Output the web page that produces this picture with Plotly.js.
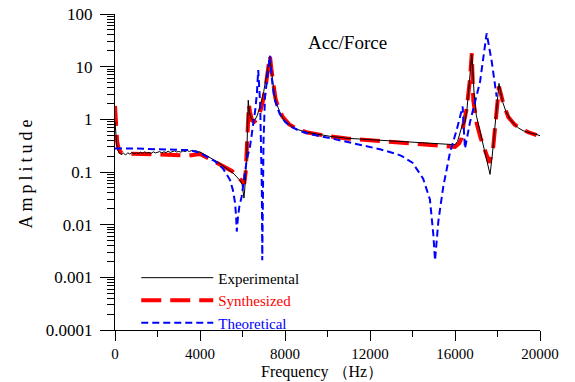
<!DOCTYPE html>
<html><head><meta charset="utf-8">
<script src="https://cdn.plot.ly/plotly-3.0.1.min.js"></script>
<style>html,body{margin:0;padding:0;background:#fff}#chart{width:575px;height:382px}</style>
</head><body><div id="chart"></div>
<script>
// Experimental (measured) FRF
const expFreq = [0,40,80,130,200,300,400,500,600,700,800,900,1000,1100,1200,1300,1400,1500,1600,1700,1800,1900,2000,2100,2200,2300,2400,2500,2600,2700,2800,2900,3000,3100,3200,3300,3400,3500,3600,3700,3800,3900,4000,4100,4200,4300,4400,4500,4600,4700,4800,4900,5000,5100,5200,5300,5400,5500,5600,5700,5800,5900,5980,6040,6070,6110,6160,6200,6240,6270,6320,6400,6510,6600,6700,6800,6900,7000,7100,7200,7250,7290,7340,7420,7500,7600,7700,7800,7900,8000,8200,8400,8600,8800,9000,9200,9400,9600,9800,10000,10200,10400,10600,10800,11000,11200,11400,11600,11800,12000,12200,12400,12600,12800,13000,13200,13400,13600,13800,14000,14200,14400,14600,14800,15000,15200,15400,15600,15800,16000,16120,16250,16350,16400,16470,16560,16650,16720,16790,16840,16900,17000,17100,17250,17400,17530,17650,17750,17850,17950,18020,18070,18150,18250,18400,18600,18800,19000,19200,19400,19600,19800,20000];
const expAmp = [0.9,0.5,0.33,0.26,0.23,0.215,0.228,0.21,0.232,0.218,0.236,0.22,0.232,0.224,0.238,0.225,0.242,0.228,0.236,0.224,0.242,0.23,0.236,0.244,0.23,0.242,0.234,0.248,0.235,0.242,0.252,0.24,0.246,0.238,0.252,0.244,0.256,0.245,0.256,0.248,0.255,0.244,0.24,0.228,0.215,0.206,0.196,0.186,0.176,0.166,0.158,0.148,0.14,0.131,0.123,0.116,0.108,0.1,0.092,0.083,0.075,0.068,0.058,0.034,0.032,0.05,0.09,0.2,0.8,2.3,1.4,1.05,0.95,1.0,1.2,1.6,2.3,3.4,5.5,9.5,13,16,10,5,3,2,1.5,1.25,1.05,0.93,0.8,0.7,0.64,0.6,0.57,0.55,0.53,0.52,0.5,0.48,0.47,0.462,0.45,0.445,0.435,0.43,0.425,0.415,0.41,0.405,0.402,0.398,0.395,0.39,0.385,0.38,0.375,0.372,0.366,0.36,0.356,0.352,0.348,0.344,0.34,0.336,0.332,0.33,0.328,0.33,0.38,0.55,0.8,0.78,0.9,1.5,3.5,8,17,8,3,1.2,0.8,0.45,0.27,0.16,0.09,0.2,0.5,1.3,3,4.8,3.2,2.1,1.4,1.0,0.8,0.68,0.61,0.57,0.54,0.52,0.49];

// Synthesized FRF
const synFreq = [0,30,60,100,150,250,500,1000,1500,2000,2500,3000,3500,4000,4500,5000,5500,5800,6000,6080,6150,6200,6250,6300,6350,6450,6550,6700,6850,7000,7100,7200,7290,7360,7450,7550,7700,7900,8200,8600,9000,9500,10000,11000,12000,13000,14000,15000,15500,16000,16200,16310,16400,16550,16700,16790,16860,17020,17200,17330,17490,17620,17800,17930,18070,18270,18510,18800,19060,19500,19840];
const synAmp = [1.8,1.0,0.6,0.38,0.3,0.24,0.225,0.22,0.22,0.215,0.21,0.205,0.205,0.22,0.17,0.135,0.105,0.08,0.065,0.06,0.1,0.25,0.9,1.9,1.4,0.95,0.9,1.0,1.5,2.6,4.5,9,16,9,4.5,2.5,1.6,1.1,0.8,0.65,0.57,0.52,0.48,0.43,0.4,0.38,0.35,0.32,0.305,0.3,0.35,0.44,0.8,1.6,5.5,18,2.3,0.84,0.45,0.32,0.2,0.15,0.3,0.97,4.2,2.0,1.1,0.8,0.67,0.56,0.5];

// Theoretical FRF
const theFreq = [0,1000,2000,3000,3500,4000,4300,4700,5080,5410,5550,5650,5700,5730,5780,5850,5960,6080,6200,6350,6510,6600,6680,6740,6830,6880,6910,6930,6950,6990,7060,7180,7290,7400,7500,7650,7760,8000,8300,8700,9200,10120,11000,12000,12470,13250,13500,14000,14500,14820,14980,15060,15220,15450,15760,16080,16360,16420,16470,16710,16940,17180,17330,17490,17730,17960];
const theAmp = [0.28,0.28,0.27,0.265,0.26,0.23,0.2,0.16,0.117,0.071,0.045,0.026,0.014,0.0074,0.013,0.022,0.034,0.08,0.17,0.3,0.84,1.5,3.2,8.6,2.0,0.4,0.05,0.0021,0.05,0.4,2.7,7,16,5,2.5,1.6,1.25,0.9,0.72,0.6,0.52,0.44,0.37,0.3,0.27,0.22,0.2,0.15,0.075,0.03,0.0065,0.0021,0.012,0.053,0.23,0.63,1.75,0.6,0.28,0.9,2.2,5.2,14.5,43,12.4,2.7];

const seriesNames = ['Experimental', 'Synthesized', 'Theoretical'];
const xTickVals = [0, 4000, 8000, 12000, 16000, 20000];
const xTickText = ['0', '4000', '8000', '12000', '16000', '20000'];
const yTickVals = [0.0001, 0.001, 0.01, 0.1, 1, 10, 100];
const yTickText = ['0.0001', '0.001', '0.01', '0.1', '1', '10', '100'];
const chartTitle = 'Acc/Force';
const xTitle = 'Frequency （Hz）';
const yTitle = 'Amplitude';

const FONT = 'Liberation Serif';

const traces = [
  {x: synFreq, y: synAmp, type: 'scatter', mode: 'lines', name: '<span style="color:#ff0000">' + seriesNames[1] + '</span>',
   legendrank: 2, line: {color: '#ff0000', width: 4, dash: '20px,9px'}},
  {x: expFreq, y: expAmp, type: 'scatter', mode: 'lines', name: '<span style="color:#000000">' + seriesNames[0] + '</span>',
   legendrank: 1, line: {color: '#000000', width: 1}},
  {x: theFreq, y: theAmp, type: 'scatter', mode: 'lines', name: '<span style="color:#0000ff">' + seriesNames[2] + '</span>',
   legendrank: 3, line: {color: '#0000ff', width: 2, dash: '7px,4px'}}
];

const layout = {
  width: 575, height: 382,
  margin: {l: 115, r: 35, t: 14, b: 52},
  paper_bgcolor: '#ffffff', plot_bgcolor: '#ffffff',
  font: {family: FONT, size: 16, color: '#000'},
  showlegend: true,
  legend: {x: 0.05, y: 0.217, xanchor: 'left', yanchor: 'top', bgcolor: 'rgba(0,0,0,0)',
           font: {family: FONT, size: 15}, itemwidth: 72, tracegroupgap: 0},
  xaxis: {range: [0, 20000], tickmode: 'array', tickvals: xTickVals, ticktext: xTickText,
          ticks: 'outside', ticklen: 10, tickcolor: '#000', showline: true, linecolor: '#000', linewidth: 1,
          showgrid: false, zeroline: false, tickfont: {family: FONT, size: 15},
          minor: {dtick: 2000, ticks: 'outside', ticklen: 6, tickcolor: '#000', showgrid: false}},
  yaxis: {type: 'log', range: [-4, 2], tickmode: 'array', tickvals: yTickVals, ticktext: yTickText,
          ticks: 'outside', ticklen: 14, tickcolor: '#000', showline: true, linecolor: '#000', linewidth: 1,
          showgrid: false, zeroline: false, tickfont: {family: FONT, size: 17}, ticklabelstandoff: 4,
          minor: {dtick: 'D1', ticks: 'outside', ticklen: 7, tickcolor: '#000', showgrid: false},
          title: {text: yTitle, font: {family: FONT, size: 18}, standoff: 8}},
  annotations: [
    {text: chartTitle, xref: 'paper', yref: 'paper', x: 0.548, y: 0.95,
     showarrow: false, font: {family: FONT, size: 19, color: '#000'}},
    {text: xTitle, xref: 'paper', yref: 'paper', x: 0.487, y: -0.132, xanchor: 'center', yanchor: 'middle',
     showarrow: false, font: {family: FONT, size: 16, color: '#000'}}
  ]
};

Plotly.newPlot('chart', traces, layout, {displayModeBar: false, staticPlot: true}).then(function () {
  const yt = document.querySelector('.ytitle');
  if (yt) yt.style.letterSpacing = '4px';
});
</script>
</body></html>
